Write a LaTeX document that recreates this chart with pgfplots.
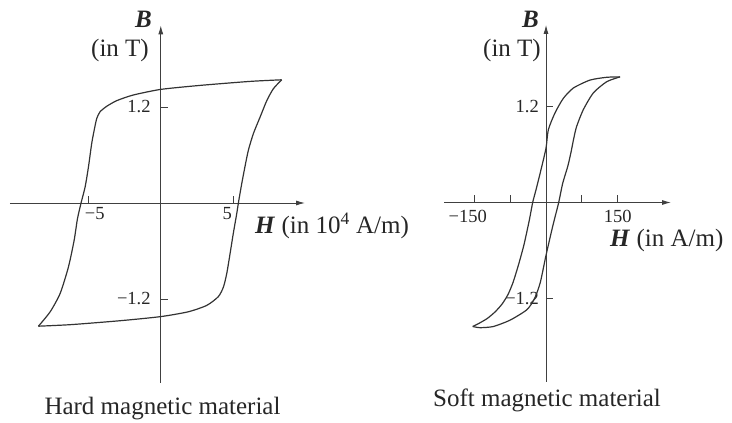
\documentclass[border=0pt]{standalone}
\usepackage{pgfplots}
\pgfplotsset{compat=1.18}
\usepackage{fontspec}
\setmainfont{Liberation Serif}
\usetikzlibrary{arrows.meta}
\begin{document}
\begin{tikzpicture}
\useasboundingbox (0pt,0pt) rectangle (732pt,423pt);
\pgfplotsset{
  hyst/.style={
    axis lines=middle,
    anchor=south west,
    clip=false,
    axis line style={line width=0.9pt, black!75},
    x axis line style={-{Latex[length=9pt,width=5pt]}},
    y axis line style={-{Latex[length=9pt,width=5pt]}},
    tick align=inside,
    major tick length=7pt,
    tick style={line width=0.8pt, black!75},
    ticklabel style={font=\fontsize{18.5}{22}\selectfont, black!85},
    /pgf/number format/assume math mode=true,
  },
  curve/.style={line width=1.2pt, black!80, smooth, tension=0.4, no markers},
}
% ---------------- Hard magnetic material ----------------
\begin{axis}[hyst,
  at={(10pt,40pt)},
  x=14.5pt, y=80pt,
  xmin=-10.4, xmax=9.95, ymin=-2.25, ymax=2.22,
  xtick={-5,5}, xticklabels={{\hspace*{13pt}−5},{5\hspace*{12pt}}},
  xticklabel style={yshift=-1pt},
  ytick={-1.2,1.2}, yticklabels={−1.2,1.2},
  yticklabel style={anchor=east, inner sep=0pt, xshift=-10pt},
]
\addplot[curve] coordinates {
(8.34,1.54) (6.16,1.52) (2.71,1.47) (0,1.42) (-1.89,1.35) (-3.03,1.28)
(-3.72,1.21) (-4.19,1.14) (-4.41,1.06) (-4.55,0.95) (-4.76,0.75)
(-4.99,0.45) (-5.22,0.2) (-5.50,0) (-5.75,-0.2) (-5.98,-0.47)
(-6.37,-0.8) (-6.94,-1.13) (-7.63,-1.36) (-8.44,-1.54)};
\addplot[curve] coordinates {
(-8.44,-1.54) (-6.16,-1.52) (-2.71,-1.47) (0,-1.42) (1.89,-1.36)
(3.17,-1.28) (3.97,-1.17) (4.32,-1.05) (4.55,-0.88) (4.78,-0.63)
(5.0,-0.38) (5.24,-0.13) (5.35,0) (5.58,0.24) (5.8,0.45) (6.04,0.66)
(6.39,0.87) (6.85,1.075) (7.31,1.28) (7.77,1.43) (8.34,1.54)};
\end{axis}
% ---------------- Soft magnetic material ----------------
\begin{axis}[hyst,
  at={(444.3pt,41.3pt)},
  x=0.478pt, y=80pt,
  xmin=-212.8, xmax=261.5, ymin=-2.24, ymax=2.22,
  xtick={-150,-75,75,150}, xticklabels={{−150\hspace*{13pt}},{},{},{150}},
  xticklabel style={yshift=-4pt},
  ytick={-1.2,1.2}, yticklabels={−1.2,1.2},
  yticklabel style={anchor=east, inner sep=0pt, xshift=-7pt},
]
\addplot[curve] coordinates {
(154.8,1.57) (127,1.565) (92,1.53) (57,1.43) (36,1.3) (18.8,1.12)
(4.9,0.91) (0,0.68) (-10.5,0.41) (-20.9,0.16) (-27.9,0) (-34.9,-0.22)
(-45.4,-0.51) (-52,-0.66) (-58.6,-0.8) (-69,-1.0) (-79.5,-1.15)
(-92,-1.27) (-107,-1.37) (-123,-1.45) (-140,-1.51) (-153.3,-1.55)};
\addplot[curve] coordinates {
(-153.3,-1.55) (-138,-1.565) (-110,-1.55) (-75,-1.47) (-40,-1.34)
(-24,-1.2) (-12,-1.0) (0,-0.66) (13.9,-0.3) (26.5,0) (34.9,0.24)
(45.4,0.45) (52,0.62) (58,0.8) (64,0.95) (78,1.16) (99,1.37)
(127,1.51) (154.8,1.57)};
\end{axis}
% ---------------- labels ----------------
\begin{scope}[every node/.style={inner sep=0pt, font=\fontsize{25}{30}\selectfont, text=black!85}]
\node[anchor=base] at (143.5pt,395.5pt) {\textbf{\textit{B}}};
\node[anchor=base east] at (149pt,366pt) {(in T)};
\node[anchor=base west] at (255pt,189.7pt) {\textbf{\textit{H}} (in 10\textsuperscript{4} A/m)};
\node[anchor=base] at (162.5pt,8pt) {Hard magnetic material};
\node[anchor=base] at (530.5pt,395pt) {\textbf{\textit{B}}};
\node[anchor=base east] at (541pt,366pt) {(in T)};
\node[anchor=base west] at (610pt,176pt) {\textbf{\textit{H}} (in A/m)};
\node[anchor=base] at (547pt,16pt) {Soft magnetic material};
\end{scope}
\end{tikzpicture}
\end{document}
